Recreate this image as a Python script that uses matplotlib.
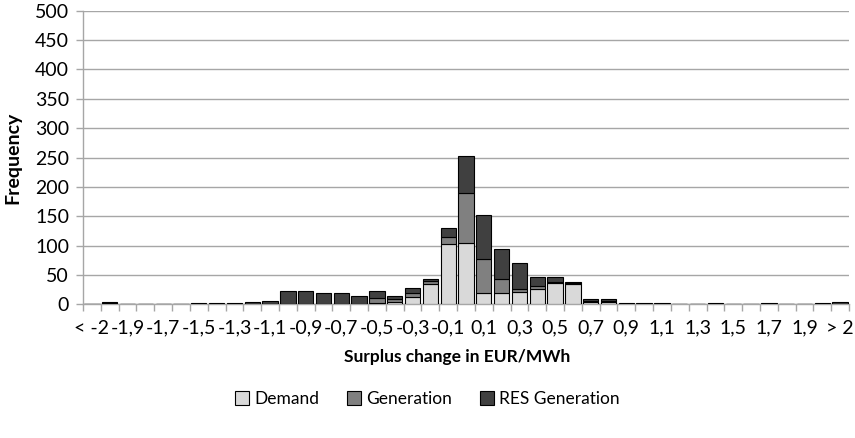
import numpy as np
import matplotlib.pyplot as plt
from matplotlib.patches import Patch

plt.rcParams['font.family'] = ['Lato', 'DejaVu Sans']

# histogram bins (Excel style category labels, decimal comma)
bins = ["< -2", "-2", "-1,9", "-1,8", "-1,7", "-1,6", "-1,5", "-1,4", "-1,3", "-1,2",
        "-1,1", "-1", "-0,9", "-0,8", "-0,7", "-0,6", "-0,5", "-0,4", "-0,3", "-0,2",
        "-0,1", "0", "0,1", "0,2", "0,3", "0,4", "0,5", "0,6", "0,7", "0,8",
        "0,9", "1", "1,1", "1,2", "1,3", "1,4", "1,5", "1,6", "1,7", "1,8",
        "1,9", "2", "> 2"]

demand = [0, 3, 0, 0, 0, 0, 0, 0, 0, 1,
          1, 0, 0, 0, 0, 0, 3, 5, 13, 35,
          103, 105, 19, 19, 21, 26, 37, 35, 5, 5,
          1, 1, 1, 0, 0, 1, 0, 0, 1, 0,
          0, 1, 1]
generation = [0, 0, 0, 0, 0, 0, 0, 0, 0, 0,
              0, 0, 0, 0, 0, 0, 8, 4, 7, 5,
              12, 84, 58, 25, 6, 5, 1, 1, 1, 1,
              0, 0, 0, 0, 0, 0, 0, 0, 0, 0,
              0, 0, 0]
res_generation = [0, 2, 0, 0, 0, 0, 2, 2, 2, 3,
                  5, 23, 23, 20, 20, 14, 12, 5, 8, 4,
                  16, 64, 75, 51, 44, 16, 9, 3, 3, 3,
                  2, 1, 1, 0, 0, 1, 0, 0, 1, 0,
                  0, 1, 4]

series_names = ["Demand", "Generation", "RES Generation"]
colors = ["#d9d9d9", "#808080", "#404040"]

demand = np.array(demand)
generation = np.array(generation)
res_generation = np.array(res_generation)
x = np.arange(len(bins))

fig = plt.figure(figsize=(8.55, 4.38), dpi=100)
ax = fig.add_axes([0.0971, 0.3048, 0.8959, 0.6708])

grid_c = "#a6a6a6"
bw = 0.86
ax.bar(x, demand, bw, color=colors[0], edgecolor="black", linewidth=0.8, zorder=3)
ax.bar(x, generation, bw, bottom=demand, color=colors[1], edgecolor="black", linewidth=0.8, zorder=3)
ax.bar(x, res_generation, bw, bottom=demand + generation, color=colors[2],
       edgecolor="black", linewidth=0.8, zorder=3)

ax.set_xlim(-0.5, len(bins) - 0.5)
ax.set_ylim(0, 500)
ax.set_yticks(np.arange(0, 501, 50))
ax.yaxis.grid(True, color=grid_c, linewidth=1.0, zorder=0)

# ticks at category boundaries, labels on every other category
ax.set_xticks(np.arange(len(bins) + 1) - 0.5)
ax.set_xticklabels([])
ax.set_xticks(x[::2], minor=True)
ax.set_xticklabels(bins[::2], minor=True, fontsize=14)
ax.tick_params(axis='x', which='major', length=5, color=grid_c, width=1)
ax.tick_params(axis='x', which='minor', length=0, pad=11)
ax.tick_params(axis='y', length=5, color=grid_c, width=1, labelsize=14, pad=5)

for s in ["top", "right"]:
    ax.spines[s].set_visible(False)
for s in ["left", "bottom"]:
    ax.spines[s].set_color(grid_c)
    ax.spines[s].set_linewidth(1.0)

ax.set_ylabel("Frequency", fontsize=14, fontweight="bold")
ax.yaxis.set_label_coords(-0.081, 0.5)
fig.text(0.535, 0.186, "Surplus change in EUR/MWh", fontsize=12.5, fontweight="bold",
         ha="center", va="center")

handles = [Patch(facecolor=c, edgecolor="black", linewidth=0.8) for c in colors]
fig.legend(handles, series_names, loc="center", bbox_to_anchor=(0.5, 0.089), ncol=3,
           frameon=False, fontsize=12.5, handlelength=0.8, handleheight=0.8,
           handletextpad=0.3, columnspacing=1.6)

fig.savefig("out.png", dpi=100)
